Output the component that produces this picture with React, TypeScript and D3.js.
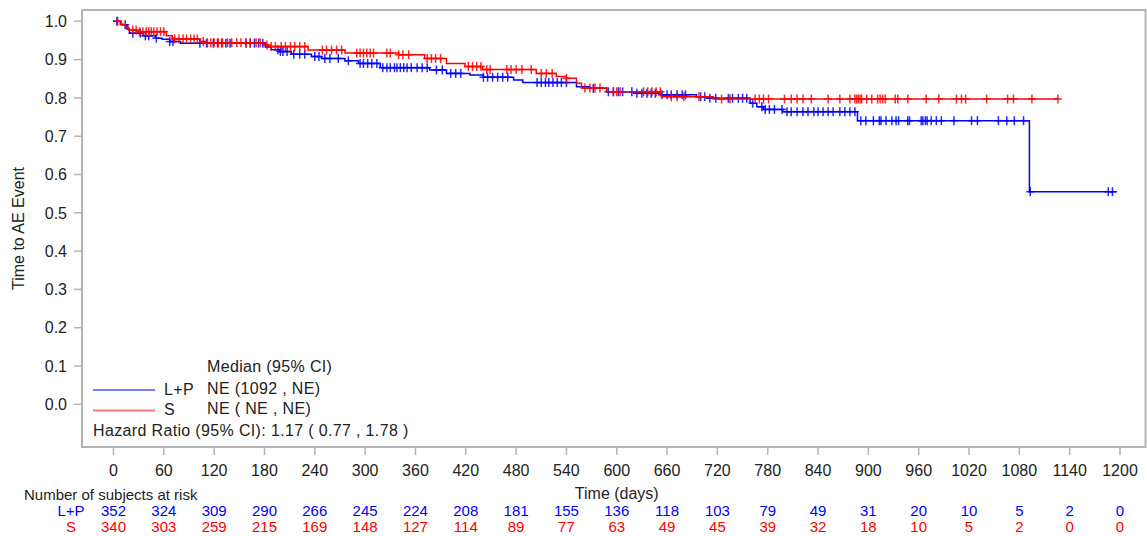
import React from "react";
import * as d3 from "d3";

// Kaplan-Meier step points: [time (days), survival after the step]
const lpSteps: [number, number][] = [
  [0, 1.0], [9, 0.991], [16, 0.98], [19, 0.969], [35, 0.962], [50, 0.956], [58, 0.953],
  [67, 0.947], [80, 0.943], [181, 0.933], [188, 0.926], [198, 0.921], [212, 0.914],
  [236, 0.908], [248, 0.903], [276, 0.897], [292, 0.89], [318, 0.879], [377, 0.873],
  [397, 0.864], [425, 0.86], [441, 0.854], [477, 0.847], [488, 0.84], [552, 0.829],
  [568, 0.825], [588, 0.816], [620, 0.812], [652, 0.808], [695, 0.803], [708, 0.799],
  [759, 0.786], [767, 0.777], [775, 0.77], [798, 0.764], [887, 0.7405], [1092, 0.555],
];
const lpEnd = 1196;
const lpCensored = [
  4, 14, 23, 32, 38, 42, 51, 67, 71, 103, 111, 119, 124, 129, 134, 139, 158, 163, 168, 173,
  178, 196, 199, 202, 207, 215, 222, 228, 240, 245, 252, 258, 268, 280, 294, 298, 303, 308,
  314, 321, 326, 330, 335, 338, 342, 346, 350, 355, 362, 368, 374, 385, 392, 402, 408, 414,
  441, 446, 452, 458, 464, 470, 505, 510, 515, 519, 524, 529, 534, 540, 572, 590, 596, 602,
  607, 618, 624, 630, 636, 641, 646, 654, 660, 665, 672, 678, 682, 700, 705, 711, 718, 733,
  738, 745, 750, 755, 762, 773, 777, 782, 788, 797, 803, 808, 815, 822, 828, 835, 840, 846,
  852, 858, 866, 872, 878, 884, 891, 897, 906, 913, 915, 921, 928, 933, 936, 947, 949, 963,
  965, 968, 970, 975, 981, 987, 1002, 1023, 1030, 1055, 1065, 1074, 1085, 1093, 1186, 1191,
];

const sSteps: [number, number][] = [
  [0, 1.0], [8, 0.992], [14, 0.985], [18, 0.977], [28, 0.973], [63, 0.962], [70, 0.954],
  [103, 0.947], [110, 0.944], [179, 0.938], [185, 0.934], [232, 0.925], [276, 0.917],
  [340, 0.9125], [371, 0.903], [397, 0.89], [419, 0.882], [440, 0.874], [504, 0.864],
  [528, 0.856], [540, 0.851], [552, 0.838], [558, 0.826], [588, 0.816], [653, 0.803],
  [715, 0.797],
];
const sEnd = 1126;
const sCensored = [
  5, 23, 27, 31, 35, 39, 42, 45, 48, 52, 56, 60, 73, 78, 83, 87, 92, 96, 100, 107, 112, 116,
  120, 125, 130, 136, 141, 147, 152, 158, 163, 170, 175, 183, 188, 193, 200, 205, 211, 216,
  222, 228, 249, 254, 260, 266, 272, 290, 294, 298, 302, 306, 310, 326, 330, 340, 345, 352,
  374, 379, 384, 390, 423, 428, 433, 438, 445, 449, 469, 474, 480, 487, 498, 510, 516, 523,
  540, 562, 568, 574, 580, 596, 600, 604, 632, 637, 642, 647, 652, 665, 672, 680, 698, 725,
  735, 765, 770, 775, 781, 800, 808, 815, 822, 832, 852, 866, 878, 884, 886, 888, 890, 892,
  898, 904, 911, 914, 917, 920, 932, 935, 947, 969, 984, 1005, 1011, 1016, 1041, 1066, 1073,
  1095, 1126,
];

const xTicks = d3.range(0, 1201, 60);
const yTicks = d3.range(0, 11).map((i) => i / 10);
const riskLP = [352, 324, 309, 290, 266, 245, 224, 208, 181, 155, 136, 118, 103, 79, 49, 31, 20, 10, 5, 2, 0];
const riskS = [340, 303, 259, 215, 169, 148, 127, 114, 89, 77, 63, 49, 45, 39, 32, 18, 10, 5, 2, 0, 0];

const groups = [
  { name: "L+P", steps: lpSteps, end: lpEnd, censored: lpCensored, risk: riskLP, color: "#0000ff", legend: "#7878ff", median: "NE (1092 , NE)" },
  { name: "S", steps: sSteps, end: sEnd, censored: sCensored, risk: riskS, color: "#ff0000", legend: "#ff7878", median: "NE ( NE , NE)" },
];

const FONT = "'Liberation Sans', Arial, sans-serif";
const W = 1147;
const H = 536;
const frame = { left: 82, top: 10, right: 1145.5, bottom: 447 };

const x = d3.scaleLinear().domain([0, 1200]).range([113.5, 1120]);
const y = d3.scaleLinear().domain([0, 1]).range([404.3, 21.3]);

function survivalAt(steps: [number, number][], t: number) {
  let s = steps[0][1];
  for (const [st, v] of steps) if (st <= t) s = v;
  return s;
}

const stepLine = d3
  .line<[number, number]>()
  .x((d) => x(d[0]))
  .y((d) => y(d[1]))
  .curve(d3.curveStepAfter);

export default function App() {
  return (
    <svg width={W} height={H} style={{ position: "absolute", left: 0, top: 0, background: "#fff" }} fontFamily={FONT}>
      <rect x={0} y={0} width={W} height={H} fill="#fff" />
      {/* plot frame */}
      <rect
        x={frame.left}
        y={frame.top}
        width={frame.right - frame.left}
        height={frame.bottom - frame.top}
        fill="none"
        stroke="#b4b4b4"
        strokeWidth={2}
      />

      {/* y axis */}
      {yTicks.map((v) => (
        <g key={"y" + v}>
          <line x1={frame.left - 8} x2={frame.left} y1={y(v)} y2={y(v)} stroke="#b4b4b4" strokeWidth={1.5} />
          <text x={67} y={y(v)} dy="0.36em" textAnchor="end" fontSize={16} fill="#222">
            {v.toFixed(1)}
          </text>
        </g>
      ))}
      <text
        transform={`translate(24, ${(frame.top + frame.bottom) / 2}) rotate(-90)`}
        textAnchor="middle"
        fontSize={16}
        fill="#222"
      >
        Time to AE Event
      </text>

      {/* x axis */}
      {xTicks.map((t) => (
        <g key={"x" + t}>
          <line x1={x(t)} x2={x(t)} y1={frame.bottom} y2={frame.bottom + 8} stroke="#b4b4b4" strokeWidth={1.5} />
          <text x={x(t)} y={470} dy="0.36em" textAnchor="middle" fontSize={16} fill="#222">
            {t}
          </text>
        </g>
      ))}
      <text x={(x(0) + x(1200)) / 2} y={493} dy="0.36em" textAnchor="middle" fontSize={16} fill="#222">
        Time (days)
      </text>

      {/* survival curves */}
      {groups.map((g) => {
        const pts: [number, number][] = [...g.steps, [g.end, g.steps[g.steps.length - 1][1]]];
        return (
          <g key={g.name}>
            <path d={stepLine(pts) || ""} fill="none" stroke={g.color} strokeWidth={1.5} />
            {g.censored.map((t, i) => {
              const cx = x(t);
              const cy = y(survivalAt(g.steps, t));
              return (
                <g key={i} stroke={g.color} strokeWidth={1.5} strokeOpacity={0.85}>
                  <line x1={cx} x2={cx} y1={cy - 4.5} y2={cy + 4.5} />
                  <line x1={cx - 4} x2={cx + 4} y1={cy} y2={cy} />
                </g>
              );
            })}
          </g>
        );
      })}

      {/* legend */}
      <g fontSize={16} fill="#222" letterSpacing={0.35}>
        <text x={207} y={366} dy="0.36em">
          Median (95% CI)
        </text>
        {groups.map((g, i) => {
          const ly = 389 + i * 20.5;
          return (
            <g key={"lg" + g.name}>
              <line x1={93} x2={155} y1={ly + 1} y2={ly + 1} stroke={g.legend} strokeWidth={2} />
              <text x={164} y={ly} dy="0.36em">
                {g.name}
              </text>
              <text x={207} y={ly - 1} dy="0.36em">
                {g.median}
              </text>
            </g>
          );
        })}
        <text x={93} y={430} dy="0.36em">
          Hazard Ratio (95% CI): 1.17 ( 0.77 , 1.78 )
        </text>
      </g>

      {/* number at risk table */}
      <text x={24} y={495} dy="0.36em" fontSize={15} fill="#222">
        Number of subjects at risk
      </text>
      {groups.map((g, i) => {
        const ry = 511 + i * 15.5;
        return (
          <g key={"risk" + g.name} fill={g.color} fontSize={15}>
            <text x={71} y={ry} dy="0.36em" textAnchor="middle">
              {g.name}
            </text>
            {g.risk.map((n, j) => (
              <text key={j} x={x(xTicks[j])} y={ry} dy="0.36em" textAnchor="middle">
                {n}
              </text>
            ))}
          </g>
        );
      })}
    </svg>
  );
}
